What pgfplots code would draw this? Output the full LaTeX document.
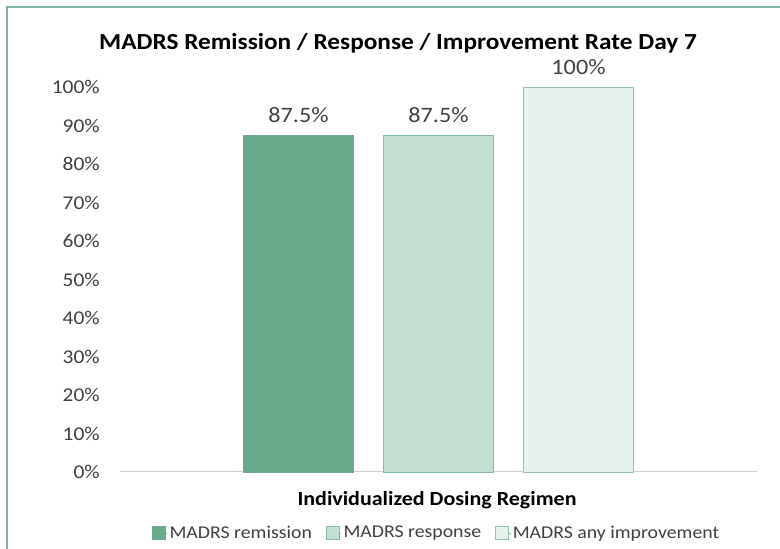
\documentclass[border=0pt]{standalone}
\usepackage{fontspec}
\setmainfont{Carlito}[FakeStretch=1.1]
\usepackage{pgfplots}
\pgfplotsset{compat=1.18}
\definecolor{frame}{HTML}{7DB49A}
\definecolor{cA}{HTML}{6BAA8D}
\definecolor{cB}{HTML}{C2DFD1}
\definecolor{cBd}{HTML}{86BBA0}
\definecolor{cC}{HTML}{E6F2EC}
\definecolor{cCd}{HTML}{92C3A9}
\definecolor{txt}{HTML}{404040}
\begin{document}
\begin{tikzpicture}[x=1bp,y=1bp]
\useasboundingbox (0,0) rectangle (780,549);
\draw[frame, line width=2bp] (7,-5) -- (7,542) -- (790,542);
\node[font=\bfseries\fontsize{23bp}{27bp}\selectfont, text=black] at (398,506) {MADRS Remission / Response / Improvement Rate Day 7};
\node[font=\bfseries\fontsize{20bp}{24bp}\selectfont, text=black] at (437,49) {Individualized Dosing Regimen};
\begin{axis}[
  at={(120bp,77bp)}, anchor=south west,
  scale only axis, width=637bp, height=385bp,
  xmin=-1, xmax=1, ymin=0, ymax=100,
  ybar, bar width=110bp,
  xtick=\empty,
  ytick={0,10,...,100},
  yticklabel={\pgfmathprintnumber{\tick}\%},
  /pgf/number format/assume math mode=true,
  major tick length=0pt,
  yticklabel style={font=\fontsize{19.5bp}{24bp}\selectfont, text=txt, inner sep=0pt, xshift=-20bp},
  axis x line*=bottom, axis y line*=left,
  y axis line style={draw=none},
  x axis line style={draw=black!18, line width=1bp, -},
  clip=false,
  nodes near coords={\pgfmathprintnumber{\pgfplotspointmeta}\%},
  nodes near coords style={font=\fontsize{22bp}{26bp}\selectfont, text=txt, anchor=center, yshift=20bp, /pgf/number format/assume math mode=true},
  legend style={at={(0.497,-0.158)}, anchor=center, draw=none, legend columns=3,
    font=\fontsize{18bp}{22bp}\selectfont, text=txt,
    /tikz/every even column/.append style={column sep=12bp},
    /tikz/every odd column/.append style={column sep=0bp}},
  legend image code/.code={\path (0bp,0bp) -- (15bp,0bp); \draw[#1, line width=0.8bp] (0bp,-6.5bp) rectangle (13bp,6.5bp);},
]
\addplot[fill=cA, draw=cA, bar shift=-140bp] coordinates {(0,87.5)};
\addplot[fill=cB, draw=cBd, bar shift=0bp] coordinates {(0,87.5)};
\addplot[fill=cC, draw=cCd, bar shift=140bp] coordinates {(0,100)};
\legend{MADRS remission, MADRS response, MADRS any improvement}
\end{axis}
\end{tikzpicture}
\end{document}
